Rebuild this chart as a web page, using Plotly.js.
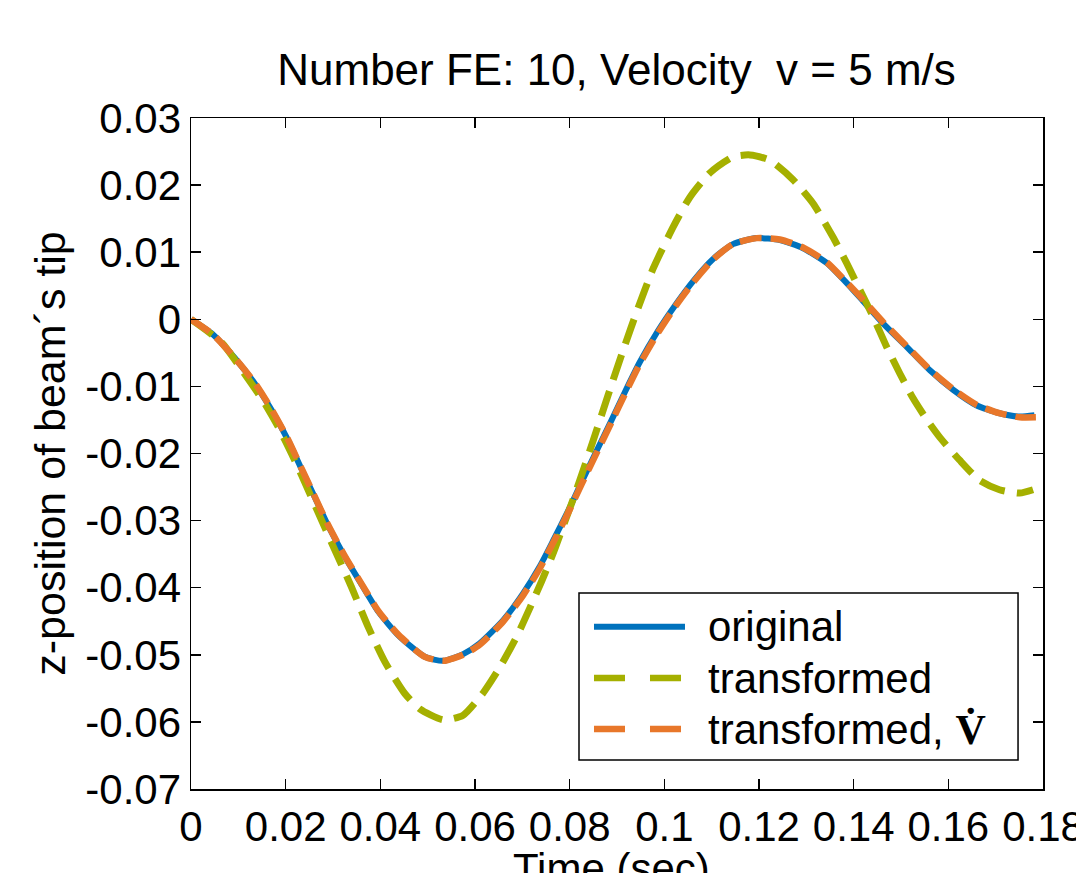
<!DOCTYPE html>
<html>
<head>
<meta charset="utf-8">
<script src="https://cdn.plot.ly/plotly-3.0.1.min.js"></script>
<style>html,body{margin:0;padding:0;background:#fff;}#chart{width:1076px;height:873px;}</style>
</head>
<body>
<div id="chart"></div>
<script>
// ---- data ----
const originalT = [0, 0.0047, 0.0093, 0.0135, 0.0170, 0.0205, 0.0234, 0.0262, 0.0290, 0.0325, 0.0361, 0.0396, 0.0438, 0.0494, 0.0533, 0.0575, 0.0610, 0.0660, 0.0702, 0.0737, 0.0765, 0.0797, 0.0825, 0.0857, 0.0888, 0.0917, 0.0948, 0.0984, 0.1026, 0.1061, 0.1103, 0.1145, 0.1195, 0.1244, 0.1293, 0.1343, 0.1388, 0.1420, 0.1462, 0.1512, 0.1561, 0.1610, 0.1659, 0.1708, 0.1751, 0.1782];
const originalZ = [0, -0.0023, -0.0058, -0.0096, -0.0135, -0.0180, -0.0224, -0.0266, -0.0308, -0.0354, -0.0396, -0.0436, -0.0471, -0.0503, -0.0509, -0.0499, -0.0483, -0.0448, -0.0408, -0.0368, -0.0330, -0.0285, -0.0243, -0.0196, -0.0151, -0.0108, -0.0064, -0.0020, 0.0024, 0.0057, 0.0090, 0.0112, 0.0121, 0.0118, 0.0106, 0.0084, 0.0052, 0.0027, -0.0006, -0.0041, -0.0076, -0.0105, -0.0128, -0.0140, -0.0145, -0.0143];

const transformedT = [0, 0.0065, 0.0110, 0.0153, 0.0184, 0.0213, 0.0234, 0.0265, 0.0297, 0.0339, 0.0374, 0.0410, 0.0452, 0.0484, 0.0533, 0.0575, 0.0617, 0.0653, 0.0688, 0.0716, 0.0741, 0.0765, 0.0786, 0.0811, 0.0832, 0.0850, 0.0871, 0.0892, 0.0917, 0.0941, 0.0976, 0.1019, 0.1054, 0.1096, 0.1145, 0.1181, 0.1223, 0.1272, 0.1314, 0.1356, 0.1385, 0.1413, 0.1441, 0.1469, 0.1497, 0.1525, 0.1554, 0.1582, 0.1624, 0.1666, 0.1708, 0.1751, 0.1779];
const transformedZ = [0, -0.0035, -0.0078, -0.0122, -0.0160, -0.0201, -0.0233, -0.0282, -0.0333, -0.0399, -0.0458, -0.0511, -0.0558, -0.0581, -0.0597, -0.0590, -0.0557, -0.0518, -0.0473, -0.0430, -0.0390, -0.0349, -0.0309, -0.0261, -0.0218, -0.0180, -0.0135, -0.0090, -0.0038, 0.0010, 0.0075, 0.0138, 0.0182, 0.0218, 0.0242, 0.0245, 0.0237, 0.0208, 0.0173, 0.0123, 0.0084, 0.0044, 0.0004, -0.0040, -0.0080, -0.0117, -0.0149, -0.0176, -0.0210, -0.0240, -0.0254, -0.0259, -0.0254];

const transformedVdotT = [0, 0.0047, 0.0093, 0.0135, 0.0170, 0.0205, 0.0234, 0.0262, 0.0290, 0.0325, 0.0361, 0.0396, 0.0438, 0.0494, 0.0533, 0.0575, 0.0610, 0.0660, 0.0702, 0.0737, 0.0765, 0.0797, 0.0825, 0.0857, 0.0888, 0.0917, 0.0948, 0.0984, 0.1026, 0.1061, 0.1103, 0.1145, 0.1195, 0.1244, 0.1293, 0.1343, 0.1388, 0.1420, 0.1462, 0.1512, 0.1561, 0.1610, 0.1659, 0.1708, 0.1751, 0.1785];
const transformedVdotZ = [0, -0.0023, -0.0058, -0.0095, -0.0134, -0.0179, -0.0223, -0.0265, -0.0307, -0.0353, -0.0395, -0.0435, -0.0470, -0.0503, -0.0509, -0.0500, -0.0485, -0.0450, -0.0411, -0.0371, -0.0333, -0.0288, -0.0246, -0.0199, -0.0154, -0.0111, -0.0067, -0.0023, 0.0022, 0.0055, 0.0089, 0.0112, 0.0121, 0.0119, 0.0107, 0.0085, 0.0053, 0.0029, -0.0004, -0.0040, -0.0075, -0.0104, -0.0127, -0.0140, -0.0146, -0.0146];

const xTickVals = [0, 0.02, 0.04, 0.06, 0.08, 0.1, 0.12, 0.14, 0.16, 0.18];
const xTickText = ["0", "0.02", "0.04", "0.06", "0.08", "0.1", "0.12", "0.14", "0.16", "0.18"];
const yTickVals = [-0.07, -0.06, -0.05, -0.04, -0.03, -0.02, -0.01, 0, 0.01, 0.02, 0.03];
const yTickText = ["-0.07", "-0.06", "-0.05", "-0.04", "-0.03", "-0.02", "-0.01", "0", "0.01", "0.02", "0.03"];

const seriesNames = ["original", "transformed", "transformed, <b><span style=\"font-family:Liberation Serif\">V\u0307</span></b>"];
const seriesColors = ["#0072BD", "#A5B000", "#E8772A"];
const xTitleText = "Time (sec)";

// ---- figure ----
const FONT = "Liberation Sans, Arial, Helvetica, sans-serif";

const traces = [
  {x: originalT, y: originalZ, mode: "lines", name: "original",
   line: {color: seriesColors[0], width: 6, shape: "spline", smoothing: 0.6}},
  {x: transformedT, y: transformedZ, mode: "lines", name: "transformed",
   line: {color: seriesColors[1], width: 7, dash: "26px,12px", shape: "spline", smoothing: 0.6}},
  {x: transformedVdotT, y: transformedVdotZ, mode: "lines", name: "transformed, V",
   line: {color: seriesColors[2], width: 6.5, dash: "22px,9px", shape: "spline", smoothing: 0.6}}
];

// custom legend (paper coordinates)
const legRows = [0.2419, 0.1654, 0.0894];
const legDash = ["solid", "31px,25px", "31px,25px"];
const legWidth = [6, 6.5, 6.5];
const shapes = [
  {type: "rect", xref: "paper", yref: "paper", x0: 0.4554, x1: 0.9707, y0: 0.0432, y1: 0.2921,
   line: {color: "#000", width: 1.5}, fillcolor: "#fff", layer: "above"}
];
const annotations = [];
for (let i = 0; i < 3; i++) {
  shapes.push({type: "line", xref: "paper", yref: "paper", x0: 0.4730, x1: 0.5798, y0: legRows[i], y1: legRows[i],
    line: {color: seriesColors[i], width: legWidth[i], dash: legDash[i]}, layer: "above"});
  annotations.push({xref: "paper", yref: "paper", x: 0.6045, y: legRows[i], xanchor: "left", yanchor: "middle",
    text: seriesNames[i], showarrow: false, font: {family: FONT, size: 42, color: "#000"}});
}
// x-axis title, placed below the tick labels (partly past the bottom edge, as in the reference)
annotations.push({xref: "paper", yref: "paper", x: 0.494, y: -0.118, xanchor: "center", yanchor: "middle",
  text: xTitleText, showarrow: false, font: {family: FONT, size: 42, color: "#000"}});

const layout = {
  width: 1076, height: 873,
  margin: {l: 191, r: 33, t: 118, b: 84, pad: 0},
  paper_bgcolor: "#fff", plot_bgcolor: "#fff",
  showlegend: false,
  font: {family: FONT, size: 42, color: "#000"},
  title: {text: "Number FE: 10, Velocity\u00a0 v = 5 m/s", x: 0.573, xanchor: "center",
          y: 0.920, yanchor: "middle", yref: "container", font: {family: FONT, size: 44, color: "#000"}},
  xaxis: {range: [0, 0.18], tickmode: "array", tickvals: xTickVals, ticktext: xTickText,
          ticks: "inside", ticklen: 10, tickwidth: 1.5, tickcolor: "#000",
          showline: true, linecolor: "#000", linewidth: 1.5, mirror: "ticks",
          showgrid: false, zeroline: false, ticklabeloverflow: "allow",
          tickfont: {family: FONT, size: 42, color: "#000"}},
  yaxis: {range: [-0.07, 0.03], tickmode: "array", tickvals: yTickVals, ticktext: yTickText,
          ticks: "inside", ticklen: 10, tickwidth: 1.5, tickcolor: "#000",
          showline: true, linecolor: "#000", linewidth: 1.5, mirror: "ticks",
          showgrid: false, zeroline: false, ticklabeloverflow: "allow",
          tickfont: {family: FONT, size: 42, color: "#000"},
          title: {text: "z-position of beam\u00b4s tip", font: {family: FONT, size: 43, color: "#000"}, standoff: 6}},
  shapes: shapes,
  annotations: annotations
};

Plotly.newPlot("chart", traces, layout, {displayModeBar: false, staticPlot: true});
</script>
</body>
</html>
